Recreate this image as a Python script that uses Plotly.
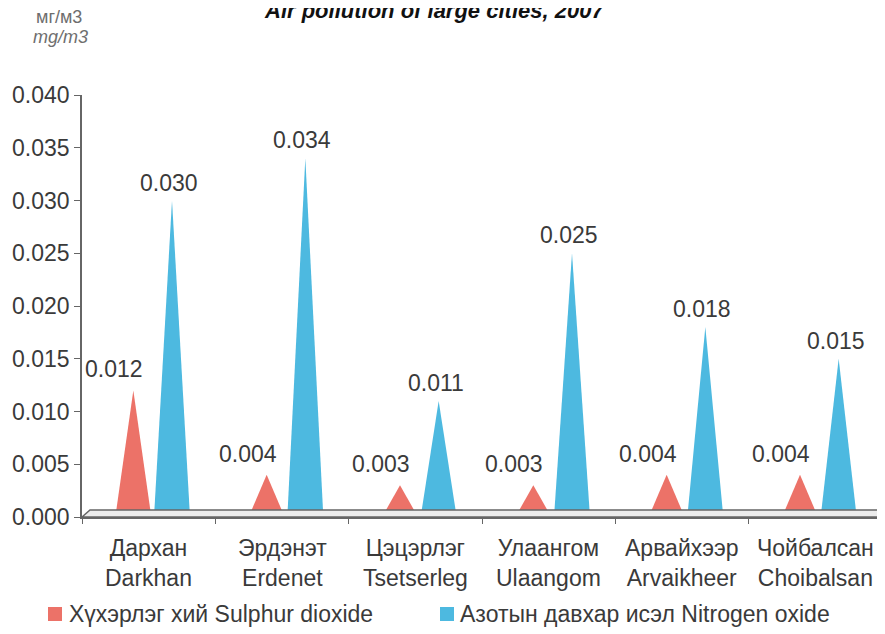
import plotly.graph_objects as go

# ---- data ----
cities_mn = ["Дархан", "Эрдэнэт", "Цэцэрлэг", "Улаангом", "Арвайхээр", "Чойбалсан"]
cities_en = ["Darkhan", "Erdenet", "Tsetserleg", "Ulaangom", "Arvaikheer", "Choibalsan"]
sulphur = [0.012, 0.004, 0.003, 0.003, 0.004, 0.004]
nitrogen = [0.030, 0.034, 0.011, 0.025, 0.018, 0.015]
y_ticks = [0.000, 0.005, 0.010, 0.015, 0.020, 0.025, 0.030, 0.035, 0.040]
series_names = ["Хүхэрлэг хий Sulphur dioxide", "Азотын давхар исэл Nitrogen oxide"]
title_text = "Air pollution of large cities, 2007"

RED = "#EC7268"
BLUE = "#4DB9E0"
TXT = "#3a3a3a"
FONT = "Liberation Sans, Arial, sans-serif"

W, H = 885, 634
OFS_X, OFS_Y = 8, 8  # page body margin
ML, MR, MT, MB = 74, 11, 87, 125
PW = W - ML - MR
PH = H - MT - MB

def px_x(sx):  # screen x -> paper x
    return (sx - OFS_X - ML) / PW

def px_y(sy):  # screen y -> paper y
    return (H - MB - (sy - OFS_Y)) / PH

HALF = 0.135
OFF_S = -0.115
OFF_N = 0.175

fig = go.Figure()

def cone(xc, v, color, name):
    return go.Scatter(
        x=[xc - HALF, xc, xc + HALF, xc - HALF],
        y=[0, v, 0, 0], name=name,
        fill="toself", fillcolor=color, mode="lines",
        line=dict(width=0, color=color), hoverinfo="skip", showlegend=False,
    )

for i, v in enumerate(sulphur):
    fig.add_trace(cone(i + OFF_S, v, RED, series_names[0]))
for i, v in enumerate(nitrogen):
    fig.add_trace(cone(i + OFF_N, v, BLUE, series_names[1]))

# value labels
for i, v in enumerate(sulphur):
    fig.add_annotation(x=i + OFF_S, y=v, text=f"{v:.3f}", showarrow=False,
                       xanchor="center", yanchor="middle",
                       xshift=-19, yshift=21, font=dict(size=23, color=TXT, family=FONT))
for i, v in enumerate(nitrogen):
    fig.add_annotation(x=i + OFF_N, y=v, text=f"{v:.3f}", showarrow=False,
                       xanchor="center", yanchor="middle",
                       xshift=-3, yshift=18, font=dict(size=23, color=TXT, family=FONT))

# category labels
for i, (a, b) in enumerate(zip(cities_mn, cities_en)):
    fig.add_annotation(x=i, y=0, yref="y", text=f"{a}<br>{b}", showarrow=False,
                       xanchor="center", yanchor="top", yshift=-16,
                       font=dict(size=23, color=TXT, family=FONT))

# 3D floor
dx = 8 / PW
dy = 7 / PH
fig.add_shape(type="path", xref="paper", yref="paper",
              path=f"M 0,0 L {dx},{dy} L {1 + 0.5 * dx},{dy} L 1,0 Z",
              fillcolor="#ececec", line=dict(color="#666666", width=1.5), layer="above")

# legend (manual, matching the reference layout)
leg_sq_x = [(48, 62), (440, 454)]
leg_txt_x = [67, 458]
leg_y = 614
for (x0, x1), tx, name, col in zip(leg_sq_x, leg_txt_x, series_names, [RED, BLUE]):
    fig.add_shape(type="rect", xref="paper", yref="paper",
                  x0=px_x(x0), x1=px_x(x1), y0=px_y(leg_y - 7), y1=px_y(leg_y + 7),
                  fillcolor=col, line=dict(width=0))
    fig.add_annotation(xref="paper", yref="paper", x=px_x(tx), y=px_y(leg_y),
                       xanchor="left", yanchor="middle", text=name, showarrow=False,
                       font=dict(size=23, color=TXT, family=FONT))

# units
fig.add_annotation(xref="paper", yref="paper", x=px_x(59), y=px_y(17),
                   xanchor="center", yanchor="middle",
                   text="мг/м3", showarrow=False,
                   font=dict(size=18, color="#6e6e6e", family=FONT))
fig.add_annotation(xref="paper", yref="paper", x=px_x(60), y=px_y(37),
                   xanchor="center", yanchor="middle",
                   text="<i>mg/m3</i>", showarrow=False,
                   font=dict(size=18, color="#6e6e6e", family=FONT))
# title (partially cut off at the top, as in the reference)
fig.add_annotation(xref="paper", yref="paper", x=px_x(262), y=px_y(11),
                   xanchor="left", yanchor="middle",
                   text=f"<b><i>{title_text}</i></b>", showarrow=False,
                   font=dict(size=22, color="#111111", family=FONT))

fig.update_layout(
    width=W, height=H,
    margin=dict(l=ML, r=MR, t=MT, b=MB, pad=0, autoexpand=False),
    paper_bgcolor="white", plot_bgcolor="white",
    showlegend=False,
    xaxis=dict(range=[-0.5, 5.5], showgrid=False, zeroline=False, automargin=False,
               showline=True, linecolor="#666666", linewidth=1.5,
               tickmode="array", tickvals=[k - 0.5 for k in range(7)],
               ticktext=[""] * 7, ticks="outside", ticklen=5, tickcolor="#666666"),
    yaxis=dict(range=[0, 0.040], showgrid=False, zeroline=False, automargin=False,
               showline=True, linecolor="#666666", linewidth=1.5,
               tickmode="array", tickvals=y_ticks,
               ticktext=[f"{t:.3f}" for t in y_ticks],
               ticks="outside", ticklen=6, tickcolor="#666666",
               tickfont=dict(size=23, color=TXT, family=FONT)),
)

fig.write_html("out.html")
